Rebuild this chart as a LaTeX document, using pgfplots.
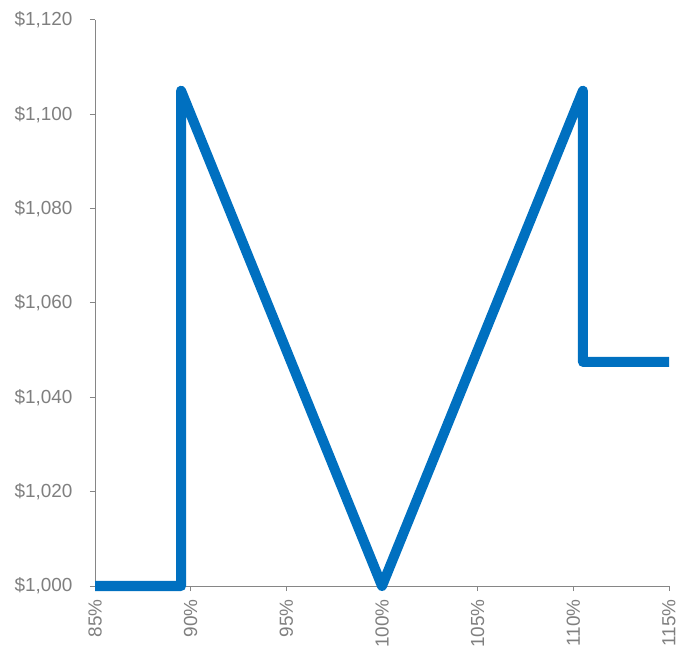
\documentclass[border=0pt]{standalone}
\usepackage{fontspec}
\setmainfont{Liberation Sans}
\usepackage{pgfplots}
\pgfplotsset{compat=1.18}
\definecolor{lineblue}{HTML}{0070C0}
\definecolor{axgray}{HTML}{868686}
\definecolor{txtgray}{HTML}{7F7F7F}
\begin{document}
\begin{tikzpicture}[x=1bp,y=1bp]
  % fix the page size to the reference's proportions
  \useasboundingbox (0,0) rectangle (684bp,648bp);
  \begin{axis}[
      at={(95bp,62bp)}, anchor=origin,
      scale only axis,
      width=574bp, height=566bp,
      xmin=85, xmax=115,
      ymin=1000, ymax=1120,
      xtick={85,90,...,115},
      ytick={1000,1020,...,1120},
      axis lines=left,
      axis line style={-, draw=axgray, line width=1bp},
      tick style={draw=axgray, line width=1bp},
      tick align=outside,
      major tick length=5bp,
      clip=false,
      ticklabel style={text=txtgray, font=\fontsize{19pt}{21pt}\selectfont},
      /pgf/number format/assume math mode=true,
      /pgf/number format/1000 sep={,},
      yticklabel={\$\pgfmathprintnumber{\tick}},
      yticklabel style={xshift=-14bp},
      xticklabel={\pgfmathprintnumber{\tick}\%},
      xticklabel style={yshift=-5bp, rotate=90, anchor=east},
    ]
    \addplot[lineblue, line width=10bp, line join=round, line cap=butt]
      coordinates {
        (85,1000) (89.5,1000) (89.5,1105) (100,1000)
        (110.5,1105) (110.5,1047.5) (115,1047.5)
      };
  \end{axis}
\end{tikzpicture}
\end{document}
